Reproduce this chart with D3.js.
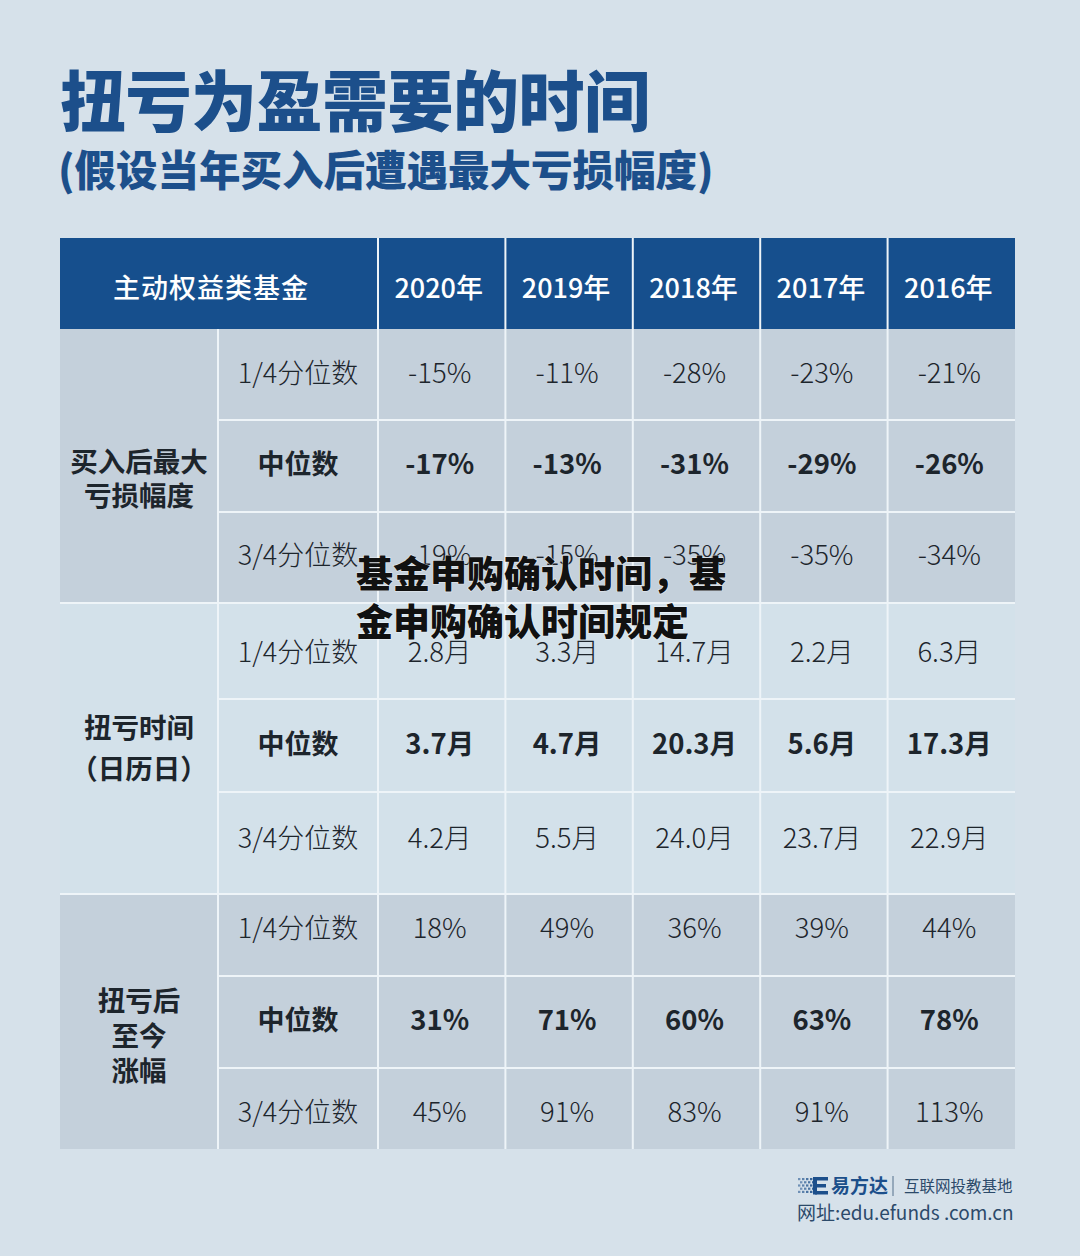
<!DOCTYPE html>
<html><head><meta charset="utf-8">
<script src="https://cdn.jsdelivr.net/npm/d3@7/dist/d3.min.js"></script>
<style>
html,body{margin:0;padding:0;background:#d6e1ea;}
svg{display:block;}
text{font-family:"Noto Sans CJK SC","Noto Sans",sans-serif;}
</style></head>
<body>
<svg id="c" width="1080" height="1256"></svg>
<script>
// ---------- data ----------
const title = "扭亏为盈需要的时间";
const subtitle = "(假设当年买入后遭遇最大亏损幅度)";
const cornerLabel = "主动权益类基金";
const years = ["2020年","2019年","2018年","2017年","2016年"];
const sections = [["买入后最大","亏损幅度"],["扭亏时间","（日历日）"],["扭亏后","至今","涨幅"]];
const rowLabels = ["1/4分位数","中位数","3/4分位数"];
const lossValues = [
  ["-15%","-11%","-28%","-23%","-21%"],
  ["-17%","-13%","-31%","-29%","-26%"],
  ["-19%","-15%","-35%","-35%","-34%"]
];
const recoveryValues = [
  ["2.8月","3.3月","14.7月","2.2月","6.3月"],
  ["3.7月","4.7月","20.3月","5.6月","17.3月"],
  ["4.2月","5.5月","24.0月","23.7月","22.9月"]
];
const gainValues = [
  ["18%","49%","36%","39%","44%"],
  ["31%","71%","60%","63%","78%"],
  ["45%","91%","83%","91%","113%"]
];
const overlayLines = ["基金申购确认时间，基","金申购确认时间规定"];
const footerBrand = "易方达";
const footerTag = "互联网投教基地";
const footerUrl = "网址:edu.efunds .com.cn";

// ---------- layout ----------
const L = {left:60, col1:218, col2:378, right:1015, headTop:238, headBot:329};
const sectionEdges = [[329,420,512,603],[603,699,792,894],[894,976,1068,1149]];
const rowTextY = [[371,462,553],[650,742,836],[926,1018,1110]];
const sectionLabelCY = [477,746,1034];
const sectionLabelLH = [34,41,35];
const sectionFill = ["#c4d0db","#d3e1ea","#c4d0db"];
const allValues = [lossValues, recoveryValues, gainValues];

const svg = d3.select("#c");
svg.append("rect").attr("width",1080).attr("height",1256).attr("fill","#d6e1ea");

// Title
svg.append("text").attr("x",60).attr("y",126).attr("font-size",66).attr("font-weight",900)
  .attr("fill","#1c4f8b").attr("letter-spacing",-0.5).text(title);
svg.append("text").attr("x",58).attr("y",186).attr("font-size",41.5).attr("font-weight",900)
  .attr("fill","#1c4f8b").text(subtitle);

const x = d3.scaleBand().domain(years).range([L.col2, L.right]);

// Header
svg.append("rect").attr("x",L.left).attr("y",L.headTop).attr("width",L.right-L.left)
  .attr("height",L.headBot-L.headTop).attr("fill","#164f8d");
const hy = (L.headTop+L.headBot)/2 + 3;
svg.append("text").attr("x",(L.left+L.col2)/2-8).attr("y",hy)
  .attr("dominant-baseline","central").attr("text-anchor","middle").attr("font-size",27)
  .attr("fill","#fff").attr("font-weight",500).attr("letter-spacing",1).text(cornerLabel);
svg.selectAll(".yr").data(years).join("text").attr("class","yr")
  .attr("x",d=>x(d)+x.bandwidth()/2-3).attr("y",hy)
  .attr("dominant-baseline","central").attr("text-anchor","middle").attr("font-size",27)
  .attr("fill","#fff").attr("font-weight",500).text(d=>d);

// Sections
sections.forEach((lab, si) => {
  const e = sectionEdges[si];
  const g = svg.append("g");
  g.append("rect").attr("x",L.left).attr("y",e[0]).attr("width",L.right-L.left)
    .attr("height",e[3]-e[0]).attr("fill",sectionFill[si]);
  const y = d3.scaleOrdinal().domain([0,1,2]).range(rowTextY[si]);
  // section label
  const n = lab.length, lh = sectionLabelLH[si], cy = sectionLabelCY[si];
  g.selectAll(".sl").data(lab).join("text")
    .attr("x",(L.left+L.col1)/2).attr("y",(d,i)=>cy+(i-(n-1)/2)*lh)
    .attr("dominant-baseline","central").attr("text-anchor","middle")
    .attr("font-size",27.5).attr("font-weight",700).attr("fill","#1d252c").text(d=>d);
  // row labels
  g.selectAll(".rl").data(rowLabels).join("text")
    .attr("x",(L.col1+L.col2)/2).attr("y",(d,i)=>y(i))
    .attr("dominant-baseline","central").attr("text-anchor","middle")
    .attr("font-size",27).attr("font-weight",(d,i)=>i===1?700:300)
    .attr("fill","#1d252c").text(d=>d);
  // values
  allValues[si].forEach((row, ri) => {
    g.selectAll(".v"+ri).data(row).join("text")
      .attr("x",(d,i)=>x(years[i])+x.bandwidth()/2-2).attr("y",y(ri))
      .attr("dominant-baseline","central").attr("text-anchor","middle")
      .attr("font-size",27.5).attr("font-weight",ri===1?700:300)
      .attr("fill","#1d252c").text(d=>d);
  });
  // inner horizontal lines
  g.selectAll(".hl").data([e[1],e[2]]).join("line")
    .attr("x1",L.col1).attr("x2",L.right).attr("y1",d=>d).attr("y2",d=>d)
    .attr("stroke","#eef4f8").attr("stroke-width",2);
});

// section separators
svg.selectAll(".sep").data([sectionEdges[1][0],sectionEdges[2][0]]).join("line")
  .attr("x1",L.left).attr("x2",L.right).attr("y1",d=>d).attr("y2",d=>d)
  .attr("stroke","#eef4f8").attr("stroke-width",2);
// vertical lines
svg.selectAll(".vl").data(years).join("line")
  .attr("x1",d=>x(d)).attr("x2",d=>x(d)).attr("y1",L.headTop).attr("y2",sectionEdges[2][3])
  .attr("stroke","#eef4f8").attr("stroke-width",2);
svg.append("line").attr("x1",L.col1).attr("x2",L.col1).attr("y1",L.headBot).attr("y2",sectionEdges[2][3])
  .attr("stroke","#eef4f8").attr("stroke-width",2);

// Overlay text
svg.selectAll(".ov").data(overlayLines).join("text")
  .attr("x",356).attr("y",(d,i)=>588+i*48).attr("font-size",37).attr("font-weight",900)
  .attr("fill","#111").attr("stroke","#ffffff").attr("stroke-width",1.2).attr("stroke-opacity",0.6)
  .attr("paint-order","stroke").text(d=>d);

// Footer logo
const lg = svg.append("g").attr("fill","#1c4f8b");
[0,1,2,3,4].forEach(r=>{
  [0,1,2,3].forEach(c=>{
    lg.append("rect").attr("x",798+c*4+(r%2)*2).attr("y",1178+r*3.2).attr("width",2.4).attr("height",2.2).attr("opacity",0.55+c*0.1);
  });
});
lg.append("rect").attr("x",815).attr("y",1177).attr("width",13).attr("height",3.5);
lg.append("rect").attr("x",815).attr("y",1184).attr("width",11).attr("height",3.5);
lg.append("rect").attr("x",815).attr("y",1191).attr("width",13).attr("height",3.5);
lg.append("rect").attr("x",813).attr("y",1177).attr("width",4).attr("height",17.5);
svg.append("text").attr("x",831).attr("y",1193).attr("font-size",19).attr("font-weight",700)
  .attr("fill","#1c4f8b").text(footerBrand);
svg.append("line").attr("x1",893).attr("x2",893).attr("y1",1176).attr("y2",1196)
  .attr("stroke","#55708c").attr("stroke-width",1);
svg.append("text").attr("x",904).attr("y",1192).attr("font-size",15.5).attr("font-weight",400)
  .attr("fill","#2c4a6a").text(footerTag);
svg.append("text").attr("x",797).attr("y",1220).attr("font-size",19).attr("font-weight",400)
  .attr("fill","#2c4a6a").text(footerUrl);
</script>
</body></html>
